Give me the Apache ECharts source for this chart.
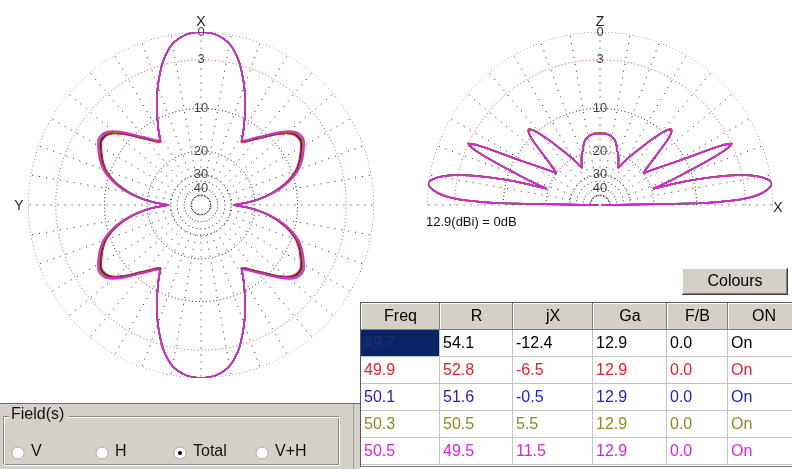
<!DOCTYPE html>
<html>
<head>
<meta charset="utf-8">
<title>Pattern</title>
<script src="https://cdn.jsdelivr.net/npm/echarts@6/dist/echarts.min.js"></script>
<style>
  html, body { margin: 0; padding: 0; background: #fff; }
  #chart { width: 792px; height: 469px; }
</style>
</head>
<body>
<div id="chart"></div>
<script>
// table readings, one entry per frequency
var freqs = ['49.7', '49.9', '50.1', '50.3', '50.5'];
var resR = ['54.1', '52.8', '51.6', '50.5', '49.5'];
var resX = ['-12.4', '-6.5', '-0.5', '5.5', '11.5'];
var gains = ['12.9', '12.9', '12.9', '12.9', '12.9'];
var fbRatio = ['0.0', '0.0', '0.0', '0.0', '0.0'];
var onState = ['On', 'On', 'On', 'On', 'On'];
var tableHead = ['Freq', 'R', 'jX', 'Ga', 'F/B', 'ON'];
var fieldModes = ['V', 'H', 'Total', 'V+H'];
var fieldSelected = 'Total';
var gainNote = '12.9(dBi) = 0dB';

// scale rings (dB) and their labels
var ringDb = [0, -3, -10, -20, -30, -50];
var tickDb = [0, -3, -10, -20, -30, -40];
var tickLabels = ['0', '3', '10', '20', '30', '40'];

// horizontal pattern (dB), one quadrant from the X axis, every 2.5 deg
var azStep = 2.5;
var az497 = [0, -0.05, -0.2, -0.5, -0.95, -1.7, -2.7, -4.0, -5.4, -7.0, -8.7, -10.5, -12.3, -14.3, -13.8, -12.9, -11.9, -10.9, -9.7, -8.5, -7.5, -6.8, -6.5, -6.5, -6.9, -7.4, -7.9, -8.5, -9.2, -10.2, -11.4, -12.9, -14.7, -17.0, -19.8, -23.5, -28.5];
var az499 = [0, -0.05, -0.2, -0.5, -0.95, -1.7, -2.7, -4.0, -5.4, -7.0, -8.7, -10.5, -12.3, -14.4, -13.9, -13.0, -12.0, -11.0, -9.8, -8.6, -7.6, -6.9, -6.6, -6.6, -7.0, -7.5, -8.0, -8.6, -9.3, -10.3, -11.5, -13.0, -14.8, -17.1, -19.9, -23.6, -28.6];
var az501 = [0, -0.05, -0.2, -0.5, -0.95, -1.7, -2.7, -4.0, -5.4, -7.0, -8.7, -10.5, -12.3, -14.2, -13.6, -12.7, -11.7, -10.7, -9.5, -8.3, -7.3, -6.6, -6.3, -6.3, -6.7, -7.2, -7.7, -8.3, -9.0, -10.0, -11.2, -12.7, -14.5, -16.8, -19.6, -23.3, -28.3];
var az503 = [0, -0.05, -0.2, -0.5, -0.95, -1.7, -2.7, -4.0, -5.4, -7.0, -8.7, -10.5, -12.3, -14.1, -13.5, -12.6, -11.6, -10.6, -9.4, -8.2, -7.2, -6.5, -6.2, -6.2, -6.6, -7.1, -7.6, -8.2, -8.9, -9.9, -11.1, -12.6, -14.4, -16.7, -19.5, -23.2, -28.2];
var az505 = [0, -0.05, -0.2, -0.5, -0.95, -1.7, -2.7, -4.0, -5.4, -7.0, -8.7, -10.5, -12.3, -14.0, -13.4, -12.4, -11.4, -10.4, -9.2, -8.0, -7.0, -6.3, -6.0, -6.0, -6.4, -6.9, -7.4, -8.0, -8.7, -9.7, -10.9, -12.4, -14.2, -16.5, -19.3, -23.0, -28.0];

// vertical pattern (dB), elevation 0..90 deg, every 1 deg
var el497 = [-80, -9.5, -4.2, -2.2, -1.2, -0.6, -0.2, 0, -0.1, -0.5,
  -1.1, -1.9, -3.1, -4.8, -7.0, -9.8, -13.6, -19.5, -16.8, -14.4,
  -12.3, -10.2, -7.6, -5.3, -3.6, -3.0, -4.0, -6.2, -8.6, -10.6,
  -12.2, -13.6, -15.0, -16.3, -17.5, -18.7, -20.0, -19.3, -18.4, -17.4,
  -16.2, -14.9, -13.5, -11.9, -10.4, -9.4, -8.9, -8.8, -9.2, -9.9,
  -10.8, -11.7, -12.8, -13.9, -15.0, -16.0, -16.9, -17.8, -18.7, -19.7,
  -20.6, -21.5, -22.5, -23.5, -24.6, -23.8, -23.0, -22.2, -21.5, -20.8,
  -20.1, -19.6, -19.2, -18.9, -18.0, -17.3, -16.8, -16.4, -16.1, -15.9,
  -15.7, -15.5, -15.4, -15.3, -15.2, -15.1, -15.1, -15.1, -15.1, -15.1, -15.1];
var el499 = [-80, -9.5, -4.2, -2.2, -1.2, -0.6, -0.2, 0, -0.1, -0.5,
  -1.1, -1.9, -3.1, -4.8, -7.0, -9.8, -13.6, -19.5, -16.8, -14.4,
  -12.3, -10.2, -7.6, -5.3, -3.5, -2.9, -4.0, -6.2, -8.6, -10.6,
  -12.2, -13.6, -15.0, -16.3, -17.5, -18.7, -20.0, -19.3, -18.4, -17.4,
  -16.2, -14.9, -13.5, -11.9, -10.4, -9.4, -8.8, -8.7, -9.2, -9.9,
  -10.8, -11.7, -12.8, -13.9, -15.0, -16.0, -16.9, -17.8, -18.7, -19.7,
  -20.6, -21.5, -22.5, -23.5, -24.6, -23.8, -23.0, -22.2, -21.5, -20.8,
  -20.1, -19.6, -19.2, -18.9, -18.0, -17.3, -16.8, -16.4, -16.1, -15.9,
  -15.7, -15.5, -15.4, -15.3, -15.2, -15.1, -15.1, -15.1, -15.1, -15.1, -15.1];
var el501 = [-80, -9.5, -4.2, -2.2, -1.2, -0.6, -0.2, 0, -0.1, -0.5,
  -1.1, -1.9, -3.1, -4.9, -7.1, -9.9, -13.7, -19.5, -16.9, -14.5,
  -12.4, -10.3, -7.7, -5.4, -3.7, -3.1, -4.1, -6.3, -8.7, -10.7,
  -12.3, -13.7, -15.1, -16.4, -17.6, -18.8, -20.1, -19.4, -18.5, -17.5,
  -16.3, -15.0, -13.6, -12.0, -10.5, -9.5, -9.0, -8.9, -9.3, -10.0,
  -10.9, -11.8, -12.9, -14.0, -15.1, -16.1, -17.0, -17.9, -18.8, -19.8,
  -20.7, -21.6, -22.6, -23.6, -24.7, -23.9, -23.1, -22.3, -21.6, -20.9,
  -20.2, -19.7, -19.3, -19.0, -18.1, -17.4, -16.9, -16.5, -16.2, -16.0,
  -15.8, -15.6, -15.5, -15.4, -15.3, -15.2, -15.2, -15.2, -15.2, -15.2, -15.2];
var el503 = [-80, -9.5, -4.2, -2.2, -1.2, -0.6, -0.2, 0, -0.1, -0.5,
  -1.1, -1.9, -3.1, -4.8, -7.0, -9.8, -13.6, -19.5, -16.8, -14.4,
  -12.3, -10.2, -7.6, -5.3, -3.6, -3.0, -4.0, -6.2, -8.6, -10.6,
  -12.2, -13.6, -15.0, -16.3, -17.5, -18.7, -20.0, -19.3, -18.4, -17.4,
  -16.2, -14.9, -13.5, -11.9, -10.4, -9.4, -8.9, -8.8, -9.2, -9.9,
  -10.8, -11.7, -12.8, -13.9, -15.0, -16.0, -16.9, -17.8, -18.7, -19.7,
  -20.6, -21.5, -22.5, -23.5, -24.6, -23.8, -23.0, -22.2, -21.5, -20.8,
  -20.1, -19.6, -19.2, -18.9, -18.0, -17.3, -16.8, -16.4, -16.1, -15.9,
  -15.7, -15.5, -15.4, -15.3, -15.2, -15.1, -15.1, -15.1, -15.1, -15.1, -15.1];
var el505 = [-80, -9.6, -4.3, -2.3, -1.3, -0.6, -0.2, 0, -0.1, -0.5,
  -1.1, -2.0, -3.2, -5.0, -7.2, -10.0, -13.8, -19.6, -16.9, -14.5,
  -12.4, -10.3, -7.7, -5.4, -3.7, -3.1, -4.1, -6.3, -8.7, -10.7,
  -12.3, -13.7, -15.1, -16.4, -17.6, -18.8, -20.1, -19.4, -18.5, -17.5,
  -16.3, -15.0, -13.6, -12.0, -10.5, -9.5, -9.0, -8.9, -9.3, -10.0,
  -10.9, -11.8, -12.9, -14.0, -15.1, -16.1, -17.0, -17.9, -18.8, -19.8,
  -20.7, -21.6, -22.6, -23.6, -24.7, -23.9, -23.1, -22.3, -21.6, -20.9,
  -20.2, -19.7, -19.3, -19.0, -18.1, -17.4, -16.9, -16.5, -16.2, -16.0,
  -15.8, -15.6, -15.5, -15.4, -15.3, -15.2, -15.2, -15.2, -15.2, -15.2, -15.2];

var azPatterns = [az497, az499, az501, az503, az505];
var elPatterns = [el497, el499, el501, el503, el505];
var colors = ['#000000', '#e8202a', '#2222c0', '#8a8a2a', '#dd22dd'];

var FONT = '"Liberation Sans", Arial, sans-serif';

// ARRL log scale: 2 dB per 0.89 of radius
function arrl(db) {
  return Math.pow(0.89, -db / 2);
}

function fullAz(q) {
  var pts = [], i;
  for (i = 0; i < q.length; i++) pts.push([arrl(q[i]), i * azStep]);
  for (i = q.length - 2; i >= 0; i--) pts.push([arrl(q[i]), 180 - i * azStep]);
  for (i = 1; i < q.length; i++) pts.push([arrl(q[i]), 180 + i * azStep]);
  for (i = q.length - 2; i >= 0; i--) pts.push([arrl(q[i]), 360 - i * azStep]);
  return pts;
}

function fullEl(h) {
  var pts = [], i;
  for (i = 0; i < h.length; i++) pts.push([arrl(h[i]), i]);
  for (i = h.length - 2; i >= 0; i--) pts.push([arrl(h[i]), 180 - i]);
  return pts;
}

var series = [];

function gridFor(p, span, labelAngle) {
  ringDb.forEach(function (db) {
    var pts = [];
    for (var a = 0; a <= span; a += 2) pts.push([arrl(db), a]);
    series.push({
      type: 'line', coordinateSystem: 'polar', polarIndex: p, data: pts,
      symbol: 'none', silent: true, z: 1,
      lineStyle: { color: db === -3 ? '#e24a4a' : '#222', width: 1, type: [1, 2.5] }
    });
  });
  for (var a = 0; a <= span - (span === 360 ? 10 : 0); a += 10) {
    series.push({
      type: 'line', coordinateSystem: 'polar', polarIndex: p,
      data: [[arrl(ringDb[ringDb.length - 1]), a], [1, a]],
      symbol: 'none', silent: true, z: 1,
      lineStyle: { color: '#222', width: 1, type: [1, 6] }
    });
  }
  series.push({
    type: 'scatter', coordinateSystem: 'polar', polarIndex: p, symbolSize: 1,
    itemStyle: { color: 'transparent' }, silent: true, z: 5,
    data: tickDb.map(function (d, i) { return { value: [arrl(d), labelAngle], name: tickLabels[i] }; }),
    label: { show: true, position: 'inside', formatter: '{b}', color: '#111', fontSize: 13, fontFamily: FONT }
  });
}

gridFor(0, 360, 0);
gridFor(1, 180, 90);

for (var k = 0; k < freqs.length; k++) {
  series.push({
    name: freqs[k], type: 'line', coordinateSystem: 'polar', polarIndex: 0,
    data: fullAz(azPatterns[k]), symbol: 'none', smooth: 0.2, silent: true, z: 3,
    lineStyle: { color: colors[k], width: 1.5 }
  });
  series.push({
    name: freqs[k], type: 'line', coordinateSystem: 'polar', polarIndex: 1,
    data: fullEl(elPatterns[k]), symbol: 'none', smooth: 0.15, silent: true, z: 3,
    lineStyle: { color: colors[k], width: 1.5 }
  });
}

// window furniture: axis letters, note, button, table, radio group
var ui = [];
function box(x, y, w, h, fill, stroke) {
  ui.push({ type: 'rect', shape: { x: x, y: y, width: w, height: h }, style: { fill: fill, stroke: stroke || null, lineWidth: 1 }, silent: true });
}
function seg(x1, y1, x2, y2, color) {
  ui.push({ type: 'line', shape: { x1: x1, y1: y1, x2: x2, y2: y2 }, style: { stroke: color, lineWidth: 1 }, silent: true });
}
function label(x, y, s, color, align, size) {
  ui.push({ type: 'text', x: x, y: y, style: { text: s, fill: color, font: size + 'px ' + FONT, textAlign: align, textVerticalAlign: 'middle' }, silent: true });
}

label(201, 22, 'X', '#222', 'center', 14);
label(19, 206, 'Y', '#222', 'center', 14);
label(600, 22, 'Z', '#222', 'center', 14);
label(778, 208, 'X', '#222', 'center', 14);
label(426, 222, gainNote, '#111', 'left', 13);

// Colours button
box(682, 268, 106, 27, '#d4d0c8');
seg(682.5, 268.5, 787, 268.5, '#ffffff');
seg(682.5, 268.5, 682.5, 294, '#ffffff');
seg(682, 294.5, 788, 294.5, '#404040');
seg(787.5, 268, 787.5, 295, '#404040');
seg(683, 293.5, 787, 293.5, '#808080');
seg(786.5, 269, 786.5, 294, '#808080');
label(735, 281.5, 'Colours', '#000', 'center', 16);

// table
var colX = [361, 440, 513, 593, 667, 728, 800];
var headTop = 303, rowH = 27;
box(360.5, 302.5, 440, 164, '#ffffff', '#7a7a7a');
for (var c = 0; c < tableHead.length; c++) {
  var x0 = colX[c], w = colX[c + 1] - colX[c];
  box(x0, headTop, w, rowH, '#d4d0c8');
  seg(x0 + 0.5, headTop + 0.5, x0 + w - 1, headTop + 0.5, '#ffffff');
  seg(x0 + 0.5, headTop + 0.5, x0 + 0.5, headTop + rowH - 1, '#ffffff');
  seg(x0 + w - 0.5, headTop, x0 + w - 0.5, headTop + rowH, '#808080');
  seg(x0, headTop + rowH - 0.5, x0 + w, headTop + rowH - 0.5, '#808080');
  label(x0 + w / 2, headTop + 14, tableHead[c], '#000', 'center', 16);
}
for (var r = 0; r < freqs.length; r++) {
  var y0 = headTop + rowH * (r + 1);
  var cells = [freqs[r], resR[r], resX[r], gains[r], fbRatio[r], onState[r]];
  for (c = 0; c < cells.length; c++) {
    var cw = colX[c + 1] - colX[c];
    var sel = (r === 0 && c === 0);
    box(colX[c], y0, cw, rowH, sel ? '#0a246a' : '#ffffff');
    seg(colX[c + 1] - 0.5, y0, colX[c + 1] - 0.5, y0 + rowH, '#c4c4c4');
    seg(colX[c], y0 + rowH - 0.5, colX[c + 1], y0 + rowH - 0.5, '#c4c4c4');
    label(colX[c] + 3, y0 + 14, cells[c], sel ? '#1d3170' : colors[r], 'left', 16);
  }
}
seg(360.5, 302, 360.5, 467, '#5a5a5a');
seg(360, 302.5, 792, 302.5, '#5a5a5a');

// Field(s) group
box(0, 403, 360, 66, '#d4d0c8');
seg(0, 403.5, 360, 403.5, '#6a6a6a');
seg(353.5, 404, 353.5, 469, '#a0a0a0');
box(3.5, 416.5, 335, 48, null, '#8a8a8a');
box(4.5, 417.5, 335, 48, null, '#ffffff');
box(9, 407, 60, 16, '#d4d0c8');
label(11, 415, 'Field(s)', '#111', 'left', 16);
var radioX = [18, 102, 180, 262];
fieldModes.forEach(function (m, i) {
  ui.push({ type: 'circle', shape: { cx: radioX[i], cy: 453, r: 6 }, style: { fill: '#ffffff', stroke: '#a8a8a8', lineWidth: 1 }, silent: true });
  if (m === fieldSelected) {
    ui.push({ type: 'circle', shape: { cx: radioX[i], cy: 453, r: 2 }, style: { fill: '#000' }, silent: true });
  }
  label(radioX[i] + 13, 452, m, '#111', 'left', 16);
});

var chart = echarts.init(document.getElementById('chart'), null, { renderer: 'canvas', width: 792, height: 469 });
var hiddenAxis = { axisLine: { show: false }, axisTick: { show: false }, axisLabel: { show: false }, splitLine: { show: false } };
chart.setOption({
  animation: false,
  backgroundColor: '#ffffff',
  polar: [
    { center: [201, 205], radius: 173 },
    { center: [600, 205], radius: 173 }
  ],
  angleAxis: [
    Object.assign({ polarIndex: 0, type: 'value', min: 0, max: 360, startAngle: 90, clockwise: true }, hiddenAxis),
    Object.assign({ polarIndex: 1, type: 'value', min: 0, max: 360, startAngle: 0, clockwise: false }, hiddenAxis)
  ],
  radiusAxis: [
    Object.assign({ polarIndex: 0, type: 'value', min: 0, max: 1 }, hiddenAxis),
    Object.assign({ polarIndex: 1, type: 'value', min: 0, max: 1 }, hiddenAxis)
  ],
  graphic: { elements: ui },
  series: series
});
</script>
</body>
</html>
